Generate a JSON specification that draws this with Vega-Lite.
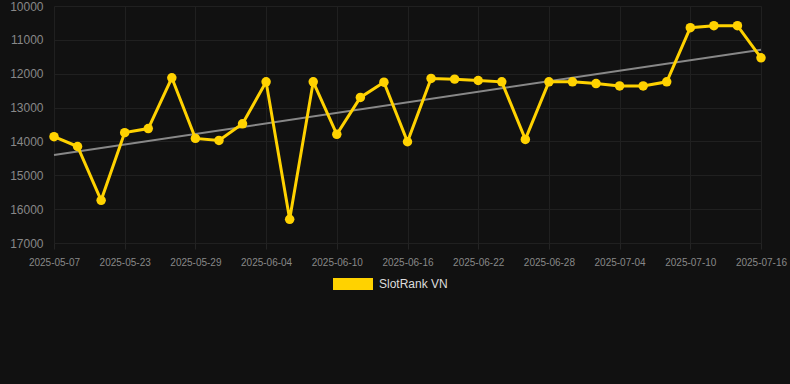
{
  "$schema": "https://vega.github.io/schema/vega-lite/v6.json",
  "autosize": "none",
  "width": 745,
  "height": 237,
  "padding": {"left": 45, "top": 6, "right": 0, "bottom": 141},
  "background": "#111111",
  "config": {
    "view": {"stroke": null},
    "font": "Liberation Sans",
    "axisY": {
      "title": null,
      "format": "d",
      "values": [10000, 11000, 12000, 13000, 14000, 15000, 16000, 17000],
      "labelColor": "#888888",
      "labelFontSize": 12,
      "labelPadding": 2,
      "domain": false,
      "ticks": false,
      "grid": true,
      "gridColor": "#202020"
    }
  },
  "data": {
    "values": [
      {"date": "2025-05-07", "rank": 13860, "trend": 14400},
      {"date": "2025-05-19", "rank": 14150},
      {"date": "2025-05-21", "rank": 15740},
      {"date": "2025-05-23", "rank": 13740},
      {"date": "2025-05-25", "rank": 13620},
      {"date": "2025-05-27", "rank": 12120},
      {"date": "2025-05-29", "rank": 13910},
      {"date": "2025-05-31", "rank": 13970},
      {"date": "2025-06-02", "rank": 13480},
      {"date": "2025-06-04", "rank": 12240},
      {"date": "2025-06-06", "rank": 16300},
      {"date": "2025-06-08", "rank": 12240},
      {"date": "2025-06-10", "rank": 13790},
      {"date": "2025-06-12", "rank": 12700},
      {"date": "2025-06-14", "rank": 12250},
      {"date": "2025-06-16", "rank": 14010},
      {"date": "2025-06-18", "rank": 12140},
      {"date": "2025-06-20", "rank": 12160},
      {"date": "2025-06-22", "rank": 12200},
      {"date": "2025-06-24", "rank": 12240},
      {"date": "2025-06-26", "rank": 13940},
      {"date": "2025-06-28", "rank": 12240},
      {"date": "2025-06-30", "rank": 12240},
      {"date": "2025-07-02", "rank": 12290},
      {"date": "2025-07-04", "rank": 12360},
      {"date": "2025-07-06", "rank": 12360},
      {"date": "2025-07-08", "rank": 12240},
      {"date": "2025-07-10", "rank": 10640},
      {"date": "2025-07-12", "rank": 10580},
      {"date": "2025-07-14", "rank": 10580},
      {"date": "2025-07-16", "rank": 11530, "trend": 11290}
    ]
  },
  "encoding": {
    "x": {
      "field": "date",
      "type": "ordinal",
      "sort": "ascending",
      "scale": {"type": "point", "padding": 0, "range": [9, 716]},
      "axis": {
        "title": null,
        "labelAngle": 0,
        "values": ["2025-05-07", "2025-05-23", "2025-05-29", "2025-06-04", "2025-06-10", "2025-06-16", "2025-06-22", "2025-06-28", "2025-07-04", "2025-07-10", "2025-07-16"],
        "labelColor": "#888888",
        "labelFontSize": 10,
        "labelPadding": 8,
        "domain": false,
        "ticks": true,
        "tickColor": "#242424",
        "tickSize": 6,
        "grid": true,
        "gridColor": "#202020"
      }
    }
  },
  "layer": [
    {
      "mark": {"type": "line", "color": "#888888", "strokeWidth": 2},
      "transform": [{"filter": "datum.trend != null"}],
      "encoding": {
        "y": {
          "field": "trend",
          "type": "quantitative",
          "title": null,
          "scale": {"domain": [10000, 17000], "reverse": true, "nice": false, "zero": false}
        }
      }
    },
    {
      "mark": {"type": "line", "strokeWidth": 3},
      "encoding": {
        "y": {"field": "rank", "type": "quantitative", "title": null},
        "color": {
          "datum": "SlotRank VN",
          "type": "nominal",
          "scale": {"range": ["#FFD200"]},
          "legend": {
            "title": null,
            "orient": "none",
            "legendX": 288,
            "legendY": 258,
            "symbolType": "M-1,-0.3H1V0.3H-1Z",
            "symbolSize": 1600,
            "symbolStrokeWidth": 0,
            "labelColor": "#dddddd",
            "labelFontSize": 12,
            "labelOffset": 6
          }
        }
      }
    },
    {
      "mark": {"type": "point", "filled": true, "size": 90, "opacity": 1},
      "encoding": {
        "y": {"field": "rank", "type": "quantitative", "title": null},
        "color": {"datum": "SlotRank VN", "type": "nominal"}
      }
    }
  ]
}
